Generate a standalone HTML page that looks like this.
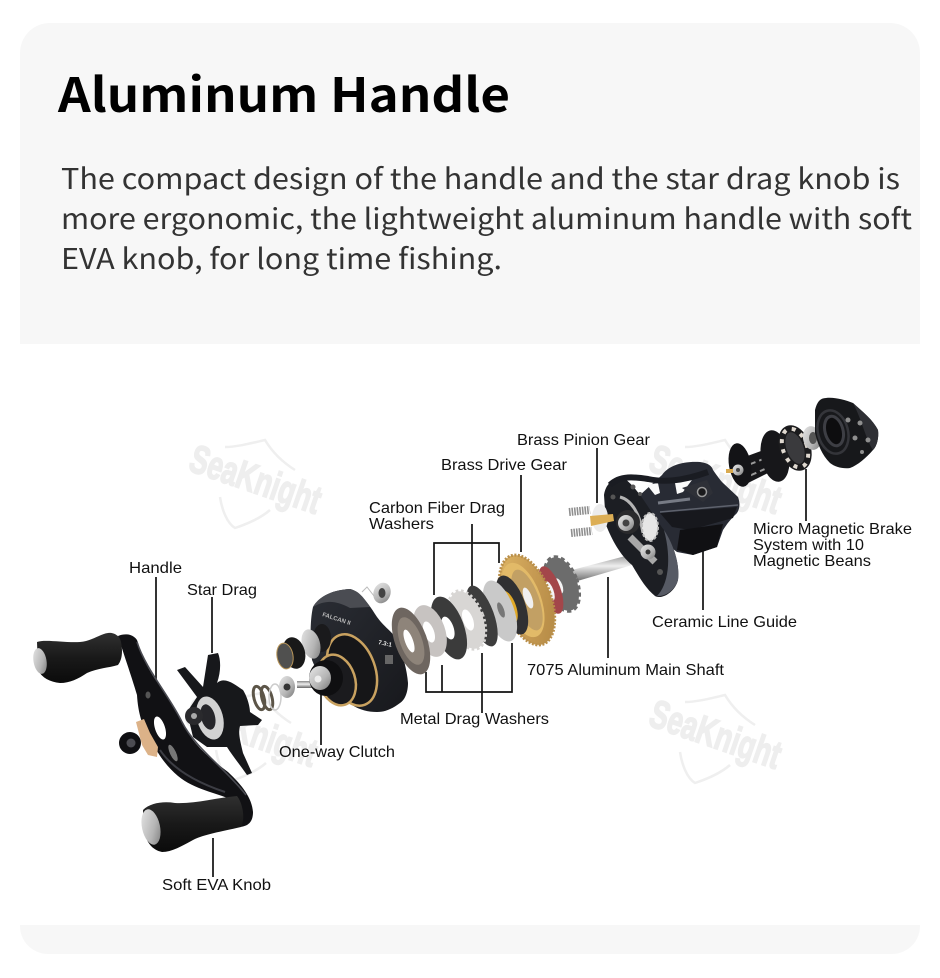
<!DOCTYPE html>
<html><head><meta charset="utf-8"><style>
html,body{margin:0;padding:0;background:#fff;width:940px;height:978px;overflow:hidden}
svg{display:block}
.h{font-family:"Noto Sans CJK SC","DejaVu Sans",sans-serif}
.l{font-family:"Liberation Sans",sans-serif;font-size:16px;fill:#111}
.w{font-family:"Liberation Sans",sans-serif;font-weight:bold;font-size:40px;fill:#eeeeee;stroke:#eeeeee;stroke-width:1.6}
</style></head><body>
<svg width="940" height="978" viewBox="0 0 940 978" xmlns="http://www.w3.org/2000/svg">
<defs>
<linearGradient id="foam" x1="0" y1="0" x2="0" y2="1"><stop offset="0" stop-color="#303030"/><stop offset=".5" stop-color="#191919"/><stop offset="1" stop-color="#0b0b0b"/></linearGradient>
<linearGradient id="shaft" x1="0" y1="0" x2="0" y2="1"><stop offset="0" stop-color="#888"/><stop offset=".45" stop-color="#eee"/><stop offset="1" stop-color="#666"/></linearGradient>
<linearGradient id="silver" x1="0" y1="0" x2="1" y2="1"><stop offset="0" stop-color="#e8e8e8"/><stop offset=".6" stop-color="#b5b5b5"/><stop offset="1" stop-color="#777"/></linearGradient>
<linearGradient id="gold" x1="0" y1="0" x2="1" y2="1"><stop offset="0" stop-color="#e3bb68"/><stop offset=".5" stop-color="#c89c54"/><stop offset="1" stop-color="#b08642"/></linearGradient>
<linearGradient id="body" x1="0" y1="0" x2="1" y2="1"><stop offset="0" stop-color="#2b2e35"/><stop offset="1" stop-color="#17181c"/></linearGradient>
<g id="wm">
<path d="M-27 -38 C-15 -38 0 -42 13 -45 C22 -30 35 -20 43 -15 M-32 12 C-30 25 -25 38 -17 43 C-2 38 10 32 18 25" fill="none" stroke="#efefef" stroke-width="2.5"/>
<text class="w" textLength="136" lengthAdjust="spacingAndGlyphs" transform="translate(-65,-15) rotate(19)">SeaKnight</text>
</g>
</defs>
<path d="M20 344V53a30 30 0 0 1 30-30H890a30 30 0 0 1 30 30V344Z" fill="#f7f7f7"/>
<path d="M20 925H920V926a28 28 0 0 1-28 28H48a28 28 0 0 1-28-28Z" fill="#f7f7f7"/>
<text class="h" x="58" y="112" font-size="47" font-weight="700" fill="#000" textLength="452" lengthAdjust="spacingAndGlyphs">Aluminum Handle</text>
<g class="h" font-size="28.5" fill="#333">
<text x="61" y="189" textLength="839" lengthAdjust="spacingAndGlyphs">The compact design of the handle and the star drag knob is</text>
<text x="61" y="229" textLength="851" lengthAdjust="spacingAndGlyphs">more ergonomic, the lightweight aluminum handle with soft</text>
<text x="61" y="269" textLength="441" lengthAdjust="spacingAndGlyphs">EVA knob, for long time fishing.</text>
</g>
<use href="#wm" x="252" y="485"/><use href="#wm" x="712" y="485"/><use href="#wm" x="712" y="740"/><use href="#wm" x="248" y="738"/>

<!-- connector lines -->
<g stroke="#111" stroke-width="1.7" fill="none">
<path d="M156 577V680M212 597V653M213 838V877M321 690V745"/>
<path d="M521 475V552M597 448V503M608 577V658M703 500V610M806 469V521"/>
<path d="M434 595V543H499V563M472 524V587"/>
<path d="M426 672V692H512V643M442 665V692M482 653V713"/>
</g>

<!-- handle arm -->
<path d="M118 636 C125 633 133 634 137 640 C142 655 146 668 163 690 C172 702 176 712 184 725 C192 742 205 755 228 772 C242 785 252 798 253 812 C253 820 250 826 240 827 L232 800 C215 792 195 790 178 776 C165 765 157 752 152 742 C142 728 138 712 137 695 C132 678 124 655 118 636Z" fill="#111114"/>
<path d="M137 642 C145 668 170 697 182 722 C195 748 225 768 246 795" fill="none" stroke="#4a4b52" stroke-width="1.6"/>
<path d="M160 750 C172 768 195 782 225 792" fill="none" stroke="#3c3d44" stroke-width="2"/>
<ellipse cx="148" cy="695" rx="2.5" ry="3.5" fill="#555"/>
<ellipse cx="160" cy="728" rx="5" ry="12" fill="#fff" transform="rotate(-18 160 728)"/>
<ellipse cx="173" cy="753" rx="3" ry="9" fill="#777" transform="rotate(-25 173 753)"/>
<path d="M136 722 L144 719 L150 733 L158 747 L157 757 L148 755 L142 745Z" fill="#dcb288"/>
<circle cx="130" cy="743" r="11" fill="#0f0f12"/><circle cx="131" cy="743" r="4.5" fill="#4c4c52"/>
<!-- upper knob -->
<path d="M37 642 C45 639 65 643 80 642 C92 641 100 634 108 633 C114 632 120 636 121 642 C123 652 122 660 118 665 C108 668 98 668 87 673 C78 679 70 683 60 683 C50 682 42 678 38 670Z" fill="url(#foam)"/>
<ellipse cx="40" cy="661" rx="6.5" ry="13" fill="url(#silver)" transform="rotate(-10 40 661)"/>
<!-- lower knob -->
<path d="M143 810 C150 803 163 801 175 803 C195 804 215 798 237 796 C242 802 246 818 241 827 C220 832 205 834 193 840 C182 846 172 852 162 852 C152 850 146 842 144 830Z" fill="url(#foam)"/>
<ellipse cx="151" cy="827" rx="9" ry="18" fill="url(#silver)" transform="rotate(-12 151 827)"/>

<!-- star drag -->
<path d="M208 655 L218 653 C221 660 221 672 217 683 C225 676 235 685 243 690 C248 698 250 708 250 712 L262 720 L258 725 L240 726 C238 733 240 740 243 753 L252 773 L247 775 C240 765 232 755 227 747 L207 747 L193 737 L187 712 L197 697 L177 670 L185 667 L203 687Z" fill="#17181b"/>
<ellipse cx="210" cy="718" rx="13" ry="22" fill="#d2d2d2" transform="rotate(-15 210 718)"/>
<ellipse cx="208" cy="717" rx="7" ry="13" fill="#26262a" transform="rotate(-15 208 717)"/>
<circle cx="194" cy="716" r="9" fill="#2a2a2d"/><circle cx="194" cy="716" r="3" fill="#aaa"/>

<!-- spring / clutch parts -->
<g fill="none" stroke="#5c5548" stroke-width="3"><ellipse cx="259" cy="698" rx="5" ry="12" transform="rotate(-15 259 698)"/><ellipse cx="267" cy="698" rx="5" ry="12" transform="rotate(-15 267 698)"/></g>
<ellipse cx="275" cy="697" rx="6" ry="13" fill="none" stroke="#ccc" stroke-width="1.5"/>
<rect x="297" y="681" width="18" height="7" fill="url(#shaft)"/>

<!-- left plate -->
<path d="M313 607 C318 598 330 590 350 589 C358 591 365 598 377 617 C385 628 393 632 397 640 C403 655 407 670 408 683 C408 692 405 700 400 703 C392 709 385 712 377 712 C368 712 360 710 352 705 C335 695 320 680 312 660 C310 640 310 620 313 607Z" fill="url(#body)"/>
<path d="M313 607 C318 598 330 590 350 589 C358 591 362 595 370 607 L350 608 C335 600 325 600 313 607Z" fill="#4a4c52"/>
<text x="322" y="616" font-family="Liberation Sans,sans-serif" font-size="6" font-weight="bold" fill="#bbb" transform="rotate(18 322 616)">FALCAN II</text>
<text x="378" y="644" font-family="Liberation Sans,sans-serif" font-size="6" font-weight="bold" fill="#eee" transform="rotate(12 378 644)">7.3:1</text>
<rect x="385" y="655" width="8" height="9" fill="#666"/>
<ellipse cx="352" cy="670" rx="23" ry="37" fill="#161618" stroke="#c9a260" stroke-width="2.5" transform="rotate(-20 352 670)"/>
<ellipse cx="337" cy="680" rx="18" ry="26" fill="#1b1b1e" stroke="#c9a260" stroke-width="2.5" transform="rotate(-18 337 680)"/>
<ellipse cx="326" cy="678" rx="17" ry="18" fill="#0f0f11"/>
<ellipse cx="320" cy="678" rx="11" ry="12" fill="url(#silver)"/><circle cx="318" cy="679" r="3.5" fill="#eee"/>
<ellipse cx="322" cy="638" rx="9" ry="14" fill="#1a1a1c"/>
<ellipse cx="311" cy="644" rx="9" ry="15" fill="url(#silver)" transform="rotate(-15 311 644)"/>
<ellipse cx="294" cy="653" rx="11" ry="16" fill="#191919" transform="rotate(-15 294 653)"/>
<ellipse cx="285" cy="656" rx="8" ry="13" fill="#50504f" stroke="#b89558" stroke-width="1" transform="rotate(-10 285 656)"/>
<ellipse cx="287" cy="687" rx="8" ry="11" fill="url(#silver)"/><circle cx="287" cy="687" r="3.5" fill="#333"/>
<ellipse cx="382" cy="593" rx="8.5" ry="10.5" fill="url(#silver)" transform="rotate(20 382 593)"/><ellipse cx="382" cy="593" rx="3.5" ry="5" fill="#444"/>
<path d="M362 592 L367 587 L374 596" fill="none" stroke="#bbb" stroke-width="1"/>

<!-- shaft -->
<path d="M572 570 L637 553 L639 563 L574 582Z" fill="url(#shaft)"/>

<!-- gears and washers, back to front -->
<ellipse cx="562" cy="584" rx="15" ry="28" fill="#6c6c6c" stroke="#6c6c6c" stroke-width="4" stroke-dasharray="4 3" transform="rotate(-20 562 584)"/>
<ellipse cx="559" cy="586" rx="3.5" ry="8" fill="#f4f4f4" transform="rotate(-20 559 586)"/>
<ellipse cx="551" cy="590" rx="9.5" ry="25" fill="#a3464a" transform="rotate(-20 551 590)"/>
<ellipse cx="550" cy="591" rx="3.5" ry="10" fill="#f4f4f4" transform="rotate(-20 550 591)"/>
<ellipse cx="527" cy="600" rx="24" ry="47" fill="url(#gold)" stroke="#b98f4a" stroke-width="3" stroke-dasharray="2 1.5" transform="rotate(-20 527 600)"/>
<ellipse cx="523" cy="600" rx="18" ry="39" fill="#e2ba68" transform="rotate(-20 523 600)"/>
<ellipse cx="527" cy="600" rx="12" ry="32" fill="#c2a064" transform="rotate(-20 527 600)"/>
<ellipse cx="528" cy="598" rx="4" ry="11" fill="#f0f0f0" transform="rotate(-20 528 598)"/>
<ellipse cx="512" cy="605" rx="13" ry="31" fill="#303032" transform="rotate(-20 512 605)"/>
<ellipse cx="509" cy="607" rx="7" ry="17" fill="#e0a928" transform="rotate(-20 509 607)"/>
<ellipse cx="500" cy="611" rx="14" ry="32" fill="#c9c9c9" transform="rotate(-20 500 611)"/>
<ellipse cx="501" cy="610" rx="3" ry="8" fill="#777" transform="rotate(-20 501 610)"/>
<ellipse cx="482" cy="616" rx="12" ry="32" fill="#3d3d3d" transform="rotate(-20 482 616)"/>
<ellipse cx="467" cy="620" rx="16" ry="30" fill="#d8d6d4" stroke="#d8d6d4" stroke-width="4" stroke-dasharray="2.5 2.5" transform="rotate(-20 467 620)"/>
<ellipse cx="468" cy="620" rx="5" ry="11" fill="#fff" transform="rotate(-20 468 620)"/>
<ellipse cx="449" cy="628" rx="15" ry="33" fill="#3b3b3b" transform="rotate(-20 449 628)"/>
<ellipse cx="448" cy="628" rx="5.5" ry="12" fill="#fff" transform="rotate(-20 448 628)"/>
<ellipse cx="430" cy="631" rx="15" ry="27" fill="#c7c3c1" transform="rotate(-20 430 631)"/>
<ellipse cx="429" cy="632" rx="5" ry="11" fill="#fff" transform="rotate(-20 429 632)"/>
<ellipse cx="411" cy="641" rx="16" ry="35" fill="#6e6660" transform="rotate(-20 411 641)"/>
<ellipse cx="411" cy="641" rx="11" ry="25" fill="#8e847a" transform="rotate(-20 411 641)"/>
<ellipse cx="409" cy="641" rx="4" ry="12" fill="#fff" transform="rotate(-20 409 641)"/>

<!-- right body -->
<path d="M662 475 C668 466 682 461 700 462 C708 463 712 466 713 470 C718 477 720 480 723 483 L738 497 C741 505 739 512 735 515 C730 520 727 524 723 530 L717 547 L693 555 L677 552 L655 535 L640 495Z" fill="#282b34"/>
<path d="M660 513 L737 507 L733 518 L690 530 L672 527Z" fill="#17181d"/>
<path d="M660 512 L738 505" stroke="#5e626d" stroke-width="1.5"/>
<path d="M658 503 L690 499" stroke="#777b85" stroke-width="3"/>
<path d="M680 530 L723 524 L717 547 L693 555 L677 550Z" fill="#101013"/>
<path d="M647 485 L658 483 L660 493 L655 495Z" fill="#fafafa"/>
<path d="M675 483 L692 480 L683 492 L677 494Z" fill="#fafafa"/>
<path d="M682 488 L707 480 L713 493 L703 502Z" fill="#2e3037"/>
<circle cx="702" cy="492" r="4.5" fill="#1a1a1c" stroke="#9a9a9a" stroke-width="1.5"/>
<path d="M604 495 C606 482 615 477 625 479 C640 490 652 515 664 530 C674 545 680 565 678 580 C675 592 662 600 655 596 C645 588 638 575 632 565 C620 555 612 540 606 525Z" fill="#1c1e23"/>
<path d="M664 530 C674 545 680 565 678 580 C675 590 665 597 657 596 C668 585 672 560 664 530Z" fill="#565a64"/>
<path d="M610 485 C620 475 635 477 648 479 C662 482 680 482 708 472" fill="none" stroke="#1a1c22" stroke-width="6"/>
<path d="M620 497 C632 500 640 515 643 533" fill="none" stroke="#b4b4b4" stroke-width="3"/>
<circle cx="628" cy="522" r="12" fill="#2a2a2c"/><circle cx="626" cy="523" r="8" fill="url(#silver)"/><circle cx="626" cy="523" r="3.5" fill="#444"/>
<ellipse cx="650" cy="527" rx="8" ry="14" fill="#e6e6e6" stroke="#bdbdbd" stroke-width="2" stroke-dasharray="3 2"/>
<path d="M630 537 L655 562" stroke="#a8a8a8" stroke-width="7"/>
<circle cx="648" cy="552" r="7.5" fill="url(#silver)"/><circle cx="648" cy="552" r="2.5" fill="#333"/>
<g fill="#555"><circle cx="613" cy="497" r="2.5"/><circle cx="633" cy="487" r="2.5"/><circle cx="640" cy="494" r="2"/><circle cx="660" cy="572" r="3"/></g>

<!-- pinion & springs -->
<path d="M569 512 L590 510 M571 533 L592 531" stroke="#8f8f8f" stroke-width="8" stroke-dasharray="1.6 1" fill="none"/>
<ellipse cx="600" cy="518" rx="8" ry="14" fill="#ececec"/>
<path d="M590 516 L613 514 L614 521 L591 526Z" fill="#dcae55"/>

<!-- spool -->
<path d="M742 458 L772 447 L778 468 L746 484Z" fill="#17171a"/>
<path d="M748 465 L771 456M749 476 L774 465" stroke="#9a9a9a" stroke-width="2" stroke-dasharray="8 4"/>
<ellipse cx="740" cy="465" rx="11" ry="22" fill="#131316" transform="rotate(-10 740 465)"/>
<circle cx="738" cy="470" r="5.5" fill="url(#silver)"/><circle cx="738" cy="470" r="2" fill="#444"/>
<rect x="726" y="469" width="7" height="4" fill="#d9aa50"/>
<ellipse cx="775" cy="456" rx="14" ry="26" fill="#17171a" transform="rotate(-10 775 456)"/>
<ellipse cx="795" cy="448" rx="12" ry="20" fill="#3a3a3d" stroke="#1b1b1d" stroke-width="7" transform="rotate(-20 795 448)"/>
<ellipse cx="795" cy="448" rx="12" ry="20" fill="none" stroke="#e0d9d0" stroke-width="4" stroke-dasharray="4 6" transform="rotate(-20 795 448)"/>
<ellipse cx="812" cy="438" rx="9" ry="12" fill="url(#silver)" transform="rotate(-12 812 438)"/><ellipse cx="813" cy="438" rx="4" ry="6" fill="#555"/>
<!-- cover -->
<path d="M815 410 C817 402 820 398 826 398 C835 397 845 400 853 403 C863 412 873 420 878 430 C879 438 877 446 873 450 C866 458 858 465 850 468 C843 469 835 467 830 463 C822 455 818 445 815 433Z" fill="#17181b"/>
<path d="M853 403 C863 412 873 420 878 430 C879 438 877 446 873 450 C866 440 862 420 853 403Z" fill="#2e2f34"/>
<ellipse cx="833" cy="432" rx="15" ry="22" fill="none" stroke="#34353a" stroke-width="2.5" transform="rotate(-15 833 432)"/>
<ellipse cx="834" cy="431" rx="9" ry="15" fill="#0d0d0f" stroke="#3d3e44" stroke-width="3" transform="rotate(-15 834 431)"/>
<g fill="#8f8f8f"><circle cx="848" cy="420" r="2.5"/><circle cx="860" cy="423" r="2.5"/><circle cx="855" cy="438" r="2.5"/><circle cx="868" cy="440" r="2.5"/><circle cx="862" cy="452" r="2"/></g>

<!-- labels -->
<g class="l">
<text x="129" y="573" textLength="53" lengthAdjust="spacingAndGlyphs">Handle</text>
<text x="187" y="595" textLength="70" lengthAdjust="spacingAndGlyphs">Star Drag</text>
<text x="162" y="890" textLength="109" lengthAdjust="spacingAndGlyphs">Soft EVA Knob</text>
<text x="279" y="757" textLength="116" lengthAdjust="spacingAndGlyphs">One-way Clutch</text>
<text x="400" y="724" textLength="149" lengthAdjust="spacingAndGlyphs">Metal Drag Washers</text>
<text x="369" y="513" textLength="136" lengthAdjust="spacingAndGlyphs">Carbon Fiber Drag</text>
<text x="369" y="529" textLength="65" lengthAdjust="spacingAndGlyphs">Washers</text>
<text x="441" y="470" textLength="126" lengthAdjust="spacingAndGlyphs">Brass Drive Gear</text>
<text x="517" y="445" textLength="133" lengthAdjust="spacingAndGlyphs">Brass Pinion Gear</text>
<text x="527" y="675" textLength="197" lengthAdjust="spacingAndGlyphs">7075 Aluminum Main Shaft</text>
<text x="652" y="627" textLength="145" lengthAdjust="spacingAndGlyphs">Ceramic Line Guide</text>
<text x="753" y="534" textLength="159" lengthAdjust="spacingAndGlyphs">Micro Magnetic Brake</text>
<text x="753" y="550" textLength="111" lengthAdjust="spacingAndGlyphs">System with 10</text>
<text x="753" y="566" textLength="118" lengthAdjust="spacingAndGlyphs">Magnetic Beans</text>
</g>
</svg>
</body></html>
